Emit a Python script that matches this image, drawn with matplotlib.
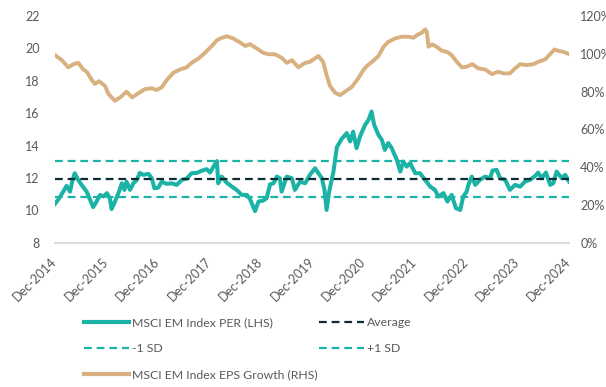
import matplotlib
matplotlib.use("Agg")
import matplotlib.pyplot as plt
from matplotlib.lines import Line2D
from matplotlib.ticker import FuncFormatter

plt.rcParams['font.family'] = ['Lato', 'DejaVu Sans']

# x positions in months after Dec-2014
per_month = [0, 0.8, 1.9, 2.7, 3.5, 4.0, 4.6, 5.4, 6.2, 7.4, 8.2, 8.9, 9.7, 10.5, 11.3, 12.1,
             12.8, 13.2, 14.0, 14.8, 15.6, 16.2, 16.7, 17.5, 18.3, 19.1, 19.8, 20.6, 21.8,
             22.6, 23.2, 24.1, 24.9, 26.1, 27.2, 28.4, 29.6, 30.7, 31.9, 33.1, 34.3, 35.4,
             36.2, 37.0, 37.8, 38.1, 38.9, 40.1, 41.3, 42.4, 43.6, 44.8, 45.5, 46.7, 47.5,
             48.6, 49.4, 50.2, 51.0, 51.8, 52.5, 52.9, 54.1, 55.3, 56.0, 57.2, 58.4, 59.5,
             60.7, 61.5, 62.3, 62.9, 63.4, 64.0, 65.0, 65.8, 66.9, 68.1, 68.9, 69.6, 70.4,
             71.2, 72.4, 73.2, 73.9, 74.5, 75.5, 76.3, 77.0, 77.8, 78.6, 79.8, 80.6, 81.3,
             82.1, 82.9, 84.1, 85.2, 86.4, 87.6, 88.7, 89.5, 90.7, 91.6, 92.6, 93.6, 94.6,
             95.3, 96.1, 96.5, 97.3, 98.1, 99.2, 100.4, 101.6, 102.1, 103.1, 103.9, 105.1,
             106.2, 107.4, 108.6, 109.7, 110.9, 112.1, 112.8, 113.6, 114.6, 115.6, 116.3,
             117.1, 118.3, 119.1, 120]
per_value = [10.40, 10.68, 11.15, 11.51, 11.15, 11.77, 12.29, 11.88, 11.57, 11.15, 10.64, 10.20,
             10.54, 10.95, 10.85, 11.06, 10.75, 10.08, 10.54, 11.06, 11.67, 11.26, 11.77, 11.26,
             11.67, 11.88, 12.31, 12.19, 12.25, 11.98, 11.36, 11.40, 11.77, 11.63, 11.67, 11.57,
             11.88, 11.95, 12.29, 12.31, 12.45, 12.54, 12.33, 12.70, 13.04, 11.67, 12.08, 11.70,
             11.46, 11.26, 10.95, 10.95, 10.70, 9.95, 10.54, 10.60, 10.75, 11.60, 11.67, 12.08,
             11.98, 11.15, 12.08, 11.98, 11.26, 11.77, 11.67, 12.19, 12.60, 12.29, 11.98, 11.26,
             10.02, 11.15, 12.39, 13.90, 14.40, 14.77, 14.25, 14.86, 13.84, 14.56, 15.28, 15.59,
             16.10, 15.28, 14.66, 14.35, 13.73, 14.15, 13.84, 13.11, 12.39, 13.01, 12.70, 12.91,
             12.29, 12.29, 11.88, 11.46, 11.26, 10.85, 11.06, 10.54, 10.95, 10.13, 10.02, 10.85,
             11.15, 11.57, 12.08, 11.57, 11.88, 12.08, 11.98, 12.45, 12.50, 11.98, 11.88, 11.26,
             11.57, 11.46, 11.77, 11.88, 12.12, 12.33, 11.98, 12.33, 11.57, 11.67, 12.39, 11.98,
             12.19, 11.77]

eps_month = [0, 1.6, 3.1, 4.3, 5.4, 6.6, 7.4, 8.6, 9.3, 10.3, 11.7, 12.4, 13.2, 14.0, 15.2, 16.7,
             18.0, 19.4, 21.0, 22.6, 23.7, 24.9, 26.1, 27.6, 29.2, 30.7, 31.9, 33.5, 35.0, 36.6,
             37.8, 38.9, 40.1, 41.6, 43.2, 44.4, 45.5, 47.1, 48.6, 49.8, 51.4, 52.9, 54.1, 55.3,
             56.8, 58.4, 59.5, 60.3, 61.5, 62.6, 63.4, 64.2, 65.4, 66.5, 67.7, 69.3, 70.8, 72.0,
             72.8, 74.3, 75.5, 76.7, 77.8, 79.4, 80.9, 82.5, 83.7, 84.5, 85.6, 86.4, 86.8, 87.2,
             88.0, 89.1, 90.3, 91.5, 92.6, 93.8, 95.0, 96.1, 97.4, 98.8, 100.4, 102.0, 103.5,
             104.7, 106.2, 107.4, 108.6, 110.1, 111.7, 112.8, 114.4, 115.6, 116.6, 117.5, 118.7,
             120]
eps_value = [99.3, 96.6, 92.8, 94.5, 95.2, 91.7, 90.5, 86.1, 84.0, 85.5, 82.9, 79.0, 76.9, 75.1,
             76.9, 79.9, 76.9, 79.0, 81.3, 81.7, 80.8, 82.2, 86.1, 89.9, 91.7, 92.8, 95.2, 97.5,
             100.5, 104.1, 107.2, 108.4, 109.3, 108.1, 106.0, 104.1, 105.1, 102.8, 100.5, 99.8,
             99.7, 97.9, 95.2, 96.6, 92.8, 95.2, 95.7, 97.0, 98.8, 95.7, 88.7, 82.9, 79.4, 78.1,
             79.9, 82.5, 87.0, 91.4, 93.5, 96.3, 98.8, 103.7, 106.3, 108.1, 109.0, 109.0, 108.5,
             109.9, 111.1, 112.9, 111.6, 103.7, 105.0, 103.7, 101.6, 101.0, 99.3, 95.7, 92.8,
             93.1, 94.5, 92.3, 91.7, 89.2, 90.5, 89.6, 89.6, 92.3, 94.5, 94.0, 94.5, 95.7, 97.0,
             99.8, 102.3, 101.6, 101.0, 99.8]

per_average = 11.94
per_sd = 1.11

tick_months = [0, 12, 24, 36, 48, 60, 72, 84, 96, 108, 120]
tick_labels = ['Dec-2014', 'Dec-2015', 'Dec-2016', 'Dec-2017', 'Dec-2018', 'Dec-2019',
               'Dec-2020', 'Dec-2021', 'Dec-2022', 'Dec-2023', 'Dec-2024']

teal = '#1ab3a6'
tan = '#d9b07f'
navy = '#0d2b36'
grey_text = '#595959'
dash = (0, (3.5, 2.2))

fig = plt.figure(figsize=(6.06, 3.87), dpi=100)
ax = fig.add_axes([0.0908, 0.3729, 0.8482, 0.5858])
ax2 = ax.twinx()

ax.plot(per_month, per_value, color=teal, lw=2.9, solid_joinstyle='round', zorder=3)
ax.axhline(per_average, color=navy, lw=1.6, ls=dash, zorder=4)
ax.axhline(per_average + per_sd, color=teal, lw=1.6, ls=dash, zorder=2)
ax.axhline(per_average - per_sd, color=teal, lw=1.6, ls=dash, zorder=2)
ax2.plot(eps_month, eps_value, color=tan, lw=2.8, solid_joinstyle='round')

ax.set_xlim(0, 120)
ax.set_ylim(8, 22)
ax.set_yticks(range(8, 23, 2))
ax2.set_ylim(0, 120)
ax2.set_yticks(range(0, 121, 20))
ax2.yaxis.set_major_formatter(FuncFormatter(lambda v, p: f"{v:.0f}%"))

ax.set_xticks(tick_months)
ax.set_xticklabels(tick_labels, rotation=45, ha='right', va='center', rotation_mode='anchor')

for a in (ax, ax2):
    for s in a.spines.values():
        s.set_visible(False)
    a.tick_params(length=0, labelsize=9, labelcolor=grey_text)
ax.spines['bottom'].set_visible(True)
ax.spines['bottom'].set_color('#d9d9d9')
ax.spines['bottom'].set_linewidth(1.3)
ax.tick_params(axis='y', pad=11)
ax.tick_params(axis='x', pad=12)
ax2.tick_params(axis='y', pad=8)

handles = [
    Line2D([], [], color=teal, lw=3),
    Line2D([], [], color=teal, lw=1.6, ls=dash),
    Line2D([], [], color=tan, lw=3),
    Line2D([], [], color=navy, lw=1.6, ls=dash),
    Line2D([], [], color=teal, lw=1.6, ls=dash),
]
labels = ['MSCI EM Index PER (LHS)', '-1 SD', 'MSCI EM Index EPS Growth (RHS)',
          'Average', '+1 SD']
leg = fig.legend(handles, labels, ncol=2, loc='upper left', bbox_to_anchor=(0.128, 0.197),
                 frameon=False, fontsize=8.8, handlelength=3.7, handletextpad=0.25,
                 columnspacing=0.1, labelspacing=1.25, borderpad=0)
for t in leg.get_texts():
    t.set_color(grey_text)

fig.savefig('out.png', dpi=100)
